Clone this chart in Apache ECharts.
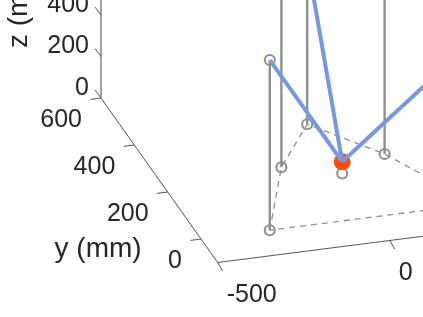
<!DOCTYPE html>
<html><head><meta charset="utf-8">
<style>html,body{margin:0;padding:0;background:#fff}#c{width:423px;height:317px}</style>
<script src="https://cdn.jsdelivr.net/npm/echarts@6/dist/echarts.min.js"></script>
</head><body><div id="c"></div>
<script>
// Values in mm
const baseX = [-300, -150, 0, 150, 300];
const baseY = [0, 240, 395, 240, 0];
const topZ = [820, 810, 790, 800, 800];
const basePolygonOrder = [0, 1, 2, 3, 4, 0];
const legsToAnchors = [0, 2, 4];
const platform = [0, 185, 57];
const xTicks = [-500, 0];
const yTicks = [0, 200, 400, 600];
const zTicks = [0, 200, 400];
const xLim = [-500, 500];
const yLim = [-100, 600];
const zLim = [0, 1000];
const yName = 'y (mm)';
const zName = 'z (mm)';

// Orthographic view of the 3D box onto the page
function view(x, y, z) {
  return [373 + 0.344 * x - 0.1667 * y, 217 - 0.044 * x - 0.235 * y - 0.2075 * z];
}
const GREY = '#8f8f8f', AXIS = '#555555', BLUE = '#7599e0', RED = '#ff4a00', TEXT = '#262626';
const FONT = '"Liberation Sans", Arial, sans-serif';

function seg(points, color, width, z, type) {
  return { type: 'line', data: points, symbol: 'none', silent: true, z: z, animation: false,
    lineStyle: { color: color, width: width, type: type || 'solid', cap: 'butt' } };
}
function tick(p, dx, dy) { return [p, [p[0] + dx, p[1] + dy]]; }
function text(p, str, dx, dy, align, size, rotate) {
  return { type: 'scatter', symbolSize: 0, silent: true, z: 10, animation: false,
    itemStyle: { opacity: 1 },
    data: [{ value: p, label: { show: true, position: 'inside', formatter: str, color: TEXT,
      fontFamily: FONT, fontSize: size, align: align, verticalAlign: 'middle',
      offset: [dx, dy], rotate: rotate || 0 } }] };
}

const series = [];
// axes
const corner = view(xLim[0], yLim[1], 0);
const front = view(xLim[0], yLim[0], 0);
series.push(seg([corner, view(xLim[0], yLim[1], zLim[1])], '#8a8a8a', 1.6, 2));
series.push(seg([corner, front], AXIS, 1, 2));
series.push(seg([front, view(xLim[1], yLim[0], 0)], AXIS, 1, 2));
// ticks
xTicks.forEach(t => series.push(seg(tick(view(t, yLim[0], 0), 5, 8.5), AXIS, 1, 2)));
yTicks.forEach(t => series.push(seg(tick(view(xLim[0], t, 0), -10.5, 1.4), AXIS, 1, 2)));
zTicks.forEach(t => series.push(seg(tick(view(xLim[0], yLim[1], t), -6, -8), AXIS, 1, 2)));
// dashed base
series.push(seg(basePolygonOrder.map(i => view(baseX[i], baseY[i], 0)), GREY, 1.3, 3, [6, 5]));
// poles
baseX.forEach((x, i) => series.push(seg([view(x, baseY[i], 0), view(x, baseY[i], topZ[i])], GREY, 2.4, 4)));
// rings
const rings = [];
baseX.forEach((x, i) => { rings.push(view(x, baseY[i], 0)); rings.push(view(x, baseY[i], topZ[i])); });
rings.push(view(platform[0], platform[1], 0));
series.push({ type: 'scatter', data: rings, symbol: 'circle', symbolSize: 10, silent: true, z: 5, animation: false,
  itemStyle: { color: 'rgba(255,255,255,0)', borderColor: GREY, borderWidth: 2.1, opacity: 1 } });
// platform marker
const plat = view(platform[0], platform[1], platform[2]);
series.push({ type: 'scatter', data: [plat], symbol: 'circle', symbolSize: 17, silent: true, z: 6, animation: false,
  itemStyle: { color: RED, opacity: 1 } });
// legs
legsToAnchors.forEach(i => series.push(seg([plat, view(baseX[i], baseY[i], topZ[i])], BLUE, 4, 7)));
// tick labels
zTicks.forEach(t => { const p = view(xLim[0], yLim[1], t); series.push(text(p, String(t), -12, -10, 'right', 25)); });
yTicks.forEach(t => { const p = view(xLim[0], t, 0); series.push(text(p, String(t), -19, 22, 'right', 25)); });
xTicks.forEach(t => { const p = view(t, yLim[0], 0); series.push(text(p, String(t), 9, 33, 'left', 25)); });
// axis names
series.push(text(front, yName, -76, -13, 'right', 28));
series.push(text(corner, zName, 50, -82, 'left', 28, 90));

const chart = echarts.init(document.getElementById('c'), null, { renderer: 'canvas' });
chart.setOption({
  animation: false,
  backgroundColor: '#ffffff',
  grid: { left: 0, right: 0, top: 0, bottom: 0 },
  xAxis: { type: 'value', min: 0, max: 423, show: false },
  yAxis: { type: 'value', min: 0, max: 317, inverse: true, show: false },
  series: series
});
</script></body></html>
